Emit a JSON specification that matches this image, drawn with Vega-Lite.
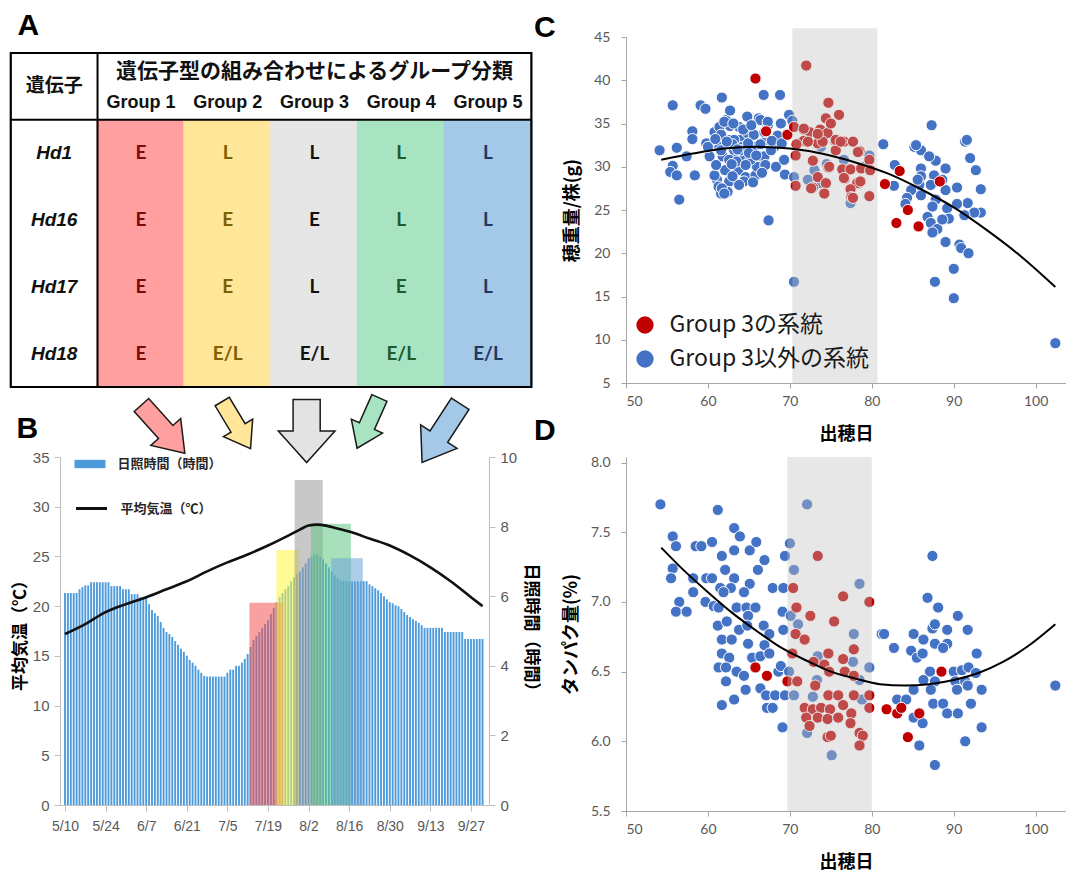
{
"$schema": "https://vega.github.io/schema/vega-lite/v6.json",
"padding": {"left": 9, "top": 11, "right": 0, "bottom": 0},
"background": "white",
"bounds": "flush",
"columns": 2,
"spacing": {"row": 74, "column": 137},
"resolve": {"scale": {"color": "independent", "fill": "independent", "stroke": "independent", "x": "independent", "y": "independent"}, "legend": {"color": "independent", "fill": "independent", "stroke": "independent"}},
"config": {
  "view": {"stroke": null},
  "font": "Noto Sans CJK JP",
  "axis": {"grid": false, "labelColor": "#595959", "domainColor": "#a6a6a6", "tickColor": "#a6a6a6", "titleColor": "#000000", "titleFontWeight": "bold", "titleFont": "Noto Sans CJK JP", "labelFont": "Liberation Sans"},
  "title": {"fontSize": 30, "font": "Liberation Sans", "fontWeight": "bold", "anchor": "start", "frame": "group", "offset": 0, "baseline": "alphabetic", "color": "#000000"}
},
"concat": [
{
  "width": 429, "height": 346,
  "title": {"text": "A", "dx": -42.5, "dy": 8},
  "layer": [
    {"data": {"name": "tblCols"}, "mark": {"type": "bar", "width": 88.83},
     "encoding": {
       "x": {"field": "col", "type": "quantitative", "scale": {"domain": [0.125, 4.954], "nice": false, "zero": false}, "axis": null},
       "y": {"datum": 0.5, "type": "quantitative", "scale": {"domain": [-0.7395, 4.44], "reverse": true, "nice": false, "zero": false}, "axis": null},
       "y2": {"datum": 4.5},
       "fill": {"field": "g", "type": "nominal", "scale": {"domain": ["Group 1","Group 2","Group 3","Group 4","Group 5"], "range": ["#FF9F9F","#FFE699","#E7E6E6","#A8E4C2","#A3C8E8"]}, "legend": null}
     }},
    {"data": {"values": [{}]}, "mark": {"type": "rect", "fillOpacity": 0, "stroke": "#000000", "strokeWidth": 2.2},
     "encoding": {"x": {"datum": -0.5, "type": "quantitative"}, "x2": {"datum": 5.5}, "y": {"datum": -0.5, "type": "quantitative"}, "y2": {"datum": 4.5}}},
    {"data": {"values": [{}]}, "mark": {"type": "rule", "stroke": "#000000", "strokeWidth": 2},
     "encoding": {"x": {"datum": 0.5, "type": "quantitative"}, "y": {"datum": -0.5, "type": "quantitative"}, "y2": {"datum": 4.5}}},
    {"data": {"values": [{}]}, "mark": {"type": "rule", "stroke": "#000000", "strokeWidth": 2},
     "encoding": {"x": {"datum": -0.5, "type": "quantitative"}, "x2": {"datum": 5.5}, "y": {"datum": 0.5, "type": "quantitative"}}},
    {"data": {"name": "tblTitle"}, "mark": {"type": "text", "fontSize": 21, "fontWeight": "bold", "font": "Noto Sans CJK JP", "dy": -14, "color": "#111111"},
     "encoding": {"x": {"field": "col", "type": "quantitative"}, "y": {"field": "row", "type": "quantitative"}, "text": {"field": "t"}}},
    {"data": {"name": "tblGene"}, "mark": {"type": "text", "fontSize": 19, "fontWeight": "bold", "font": "Noto Sans CJK JP", "color": "#111111"},
     "encoding": {"x": {"field": "col", "type": "quantitative"}, "y": {"field": "row", "type": "quantitative"}, "text": {"field": "t"}}},
    {"data": {"name": "tblGroups"}, "mark": {"type": "text", "fontSize": 18, "fontWeight": "bold", "font": "Liberation Sans", "dy": 17, "color": "#111111"},
     "encoding": {"x": {"field": "col", "type": "quantitative"}, "y": {"field": "row", "type": "quantitative"}, "text": {"field": "t"}}},
    {"data": {"name": "tblHd"}, "mark": {"type": "text", "fontSize": 19, "fontWeight": "bold", "fontStyle": "italic", "font": "Liberation Sans", "color": "#111111"},
     "encoding": {"x": {"field": "col", "type": "quantitative"}, "y": {"field": "row", "type": "quantitative"}, "text": {"field": "t"}}},
    {"data": {"name": "tblCells"}, "mark": {"type": "text", "fontSize": 19, "fontWeight": "bold", "font": "Lato"},
     "encoding": {"x": {"field": "col", "type": "quantitative"}, "y": {"field": "row", "type": "quantitative"}, "text": {"field": "t"},
       "color": {"field": "g", "type": "nominal", "scale": {"domain": ["Group 1","Group 2","Group 3","Group 4","Group 5"], "range": ["#7a0a0a","#7f6000","#111111","#1d5c2e","#1f3864"]}, "legend": null}}},
    {"data": {"values": [{}]}, "mark": {"type": "point", "shape": "M-0.3,-1L0.3,-1L0.3,0.12L0.62,0.12L0,1L-0.62,0.12L-0.3,0.12Z", "size": 4200, "angle": -42, "filled": true, "fill": "#FF9F9F", "stroke": "#1a1a1a", "strokeWidth": 1.5, "opacity": 1},
     "encoding": {"x": {"datum": 1.256, "type": "quantitative"}, "y": {"datum": 5.13, "type": "quantitative"}}},
    {"data": {"values": [{}]}, "mark": {"type": "point", "shape": "M-0.3,-1L0.3,-1L0.3,0.12L0.62,0.12L0,1L-0.62,0.12L-0.3,0.12Z", "size": 3025, "angle": -31, "filled": true, "fill": "#FFE699", "stroke": "#1a1a1a", "strokeWidth": 1.5, "opacity": 1},
     "encoding": {"x": {"datum": 2.10, "type": "quantitative"}, "y": {"datum": 5.07, "type": "quantitative"}}},
    {"data": {"values": [{}]}, "mark": {"type": "point", "shape": "M-0.43,-1L0.43,-1L0.43,0L0.9,0L0,1L-0.9,0L-0.43,0Z", "size": 3969, "angle": 0, "filled": true, "fill": "#E3E3E3", "stroke": "#1a1a1a", "strokeWidth": 1.5, "opacity": 1},
     "encoding": {"x": {"datum": 2.91, "type": "quantitative"}, "y": {"datum": 5.16, "type": "quantitative"}}},
    {"data": {"values": [{}]}, "mark": {"type": "point", "shape": "M-0.3,-1L0.3,-1L0.3,0.12L0.62,0.12L0,1L-0.62,0.12L-0.3,0.12Z", "size": 3025, "angle": 24, "filled": true, "fill": "#A8E4C2", "stroke": "#1a1a1a", "strokeWidth": 1.5, "opacity": 1},
     "encoding": {"x": {"datum": 3.62, "type": "quantitative"}, "y": {"datum": 5.04, "type": "quantitative"}}},
    {"data": {"values": [{}]}, "mark": {"type": "point", "shape": "M-0.3,-1L0.3,-1L0.3,0.12L0.62,0.12L0,1L-0.62,0.12L-0.3,0.12Z", "size": 4900, "angle": 33, "filled": true, "fill": "#A3C8E8", "stroke": "#1a1a1a", "strokeWidth": 1.5, "opacity": 1},
     "encoding": {"x": {"datum": 4.46, "type": "quantitative"}, "y": {"datum": 5.19, "type": "quantitative"}}}
  ]
},
{
  "width": 440, "height": 346,
  "title": {"text": "C", "dx": -92, "dy": 19},
  "layer": [
    {"data": {"name": "riceC"}, "mark": {"type": "point", "filled": true, "size": 125, "stroke": "#ffffff", "strokeWidth": 1, "opacity": 1},
     "encoding": {
       "x": {"field": "x", "type": "quantitative", "scale": {"domain": [50, 103.7], "nice": false, "zero": false},
             "axis": {"values": [50,60,70,80,90,100], "title": "出穂日", "titleFontSize": 18, "titlePadding": 17, "labelFontSize": 14, "labelFont": "Lato", "tickSize": 5, "labelPadding": 6}},
       "y": {"field": "y", "type": "quantitative", "scale": {"domain": [5, 45], "nice": false, "zero": false},
             "axis": {"values": [5,10,15,20,25,30,35,40,45], "title": "穂重量/株(g)", "titleFontSize": 18, "titlePadding": 12, "labelFontSize": 14, "labelFont": "Lato", "tickSize": 5, "labelPadding": 11}},
       "color": {"field": "g", "type": "nominal", "scale": {"domain": ["r", "b"], "range": ["#C00000", "#4472C4"]},
                 "legend": {"orient": "none", "legendX": 7.5, "legendY": 276.5, "title": null, "symbolType": "circle", "symbolSize": 300, "symbolStrokeWidth": 0, "labelFontSize": 23, "labelFont": "Noto Sans CJK JP", "labelColor": "#1a1a1a", "labelOffset": 13, "rowPadding": 10, "padding": 0, "labelLimit": 400, "labelExpr": "datum.label == 'r' ? 'Group 3の系統' : 'Group 3以外の系統'"}}
     }},
    {"data": {"values": [{}]}, "mark": {"type": "rect", "color": "#bfbfbf", "opacity": 0.38},
     "encoding": {"x": {"datum": 70.3, "type": "quantitative"}, "x2": {"datum": 80.7}, "y": {"datum": 5, "type": "quantitative"}, "y2": {"datum": 46}}},
    {"data": {"name": "fitC"}, "mark": {"type": "line", "color": "#000000", "strokeWidth": 2, "interpolate": "monotone"},
     "encoding": {"x": {"field": "x", "type": "quantitative"}, "y": {"field": "y", "type": "quantitative"}}}
  ]
},
{
  "width": 429, "height": 348,
  "title": {"text": "B", "dx": -43.5, "dy": -1},
  "layer": [
    {"layer": [
      {"data": {"name": "sun"}, "mark": {"type": "bar", "width": 1.9},
       "encoding": {
         "x": {"field": "d", "type": "quantitative", "scale": {"domain": [0, 144.5], "nice": false, "zero": false},
               "axis": {"values": [0,14,28,42,56,70,84,98,112,126,140], "labelExpr": "['5/10','5/24','6/7','6/21','7/5','7/19','8/2','8/16','8/30','9/13','9/27'][round(datum.value/14)]", "title": null, "labelFontSize": 14, "domainColor": "#bfbfbf", "tickColor": "#bfbfbf", "tickSize": 6, "labelPadding": 8}},
         "y": {"field": "h", "type": "quantitative", "scale": {"domain": [0, 10], "nice": false, "zero": true},
               "axis": {"orient": "right", "values": [0,1,2,3,4,5,6,7,8,9,10], "title": "日照時間（時間）", "titleAngle": 90, "titleFontSize": 17, "titlePadding": 5, "labelFontSize": 15, "domainColor": "#bfbfbf", "tickColor": "#bfbfbf", "tickSize": 6, "labelPadding": 5}},
         "fill": {"datum": "日照時間（時間）", "type": "nominal", "scale": {"range": ["#4e9bdc"]},
                  "legend": {"orient": "none", "legendX": 14.5, "legendY": -8.5, "title": null, "symbolType": "M-1,-0.27H1V0.27H-1Z", "symbolSize": 961, "labelFontSize": 13, "labelFontWeight": "bold", "labelFont": "Noto Sans CJK JP", "labelColor": "#262626", "labelOffset": 12, "padding": 0,
                             "encode": {"symbols": {"update": {"fill": {"value": "#1f78c8"}, "strokeWidth": {"value": 0}}}}}}
       }},
      {"data": {"name": "periods"}, "mark": {"type": "rect", "opacity": 0.55},
       "encoding": {
         "x": {"field": "s", "type": "quantitative"}, "x2": {"field": "e"},
         "y": {"field": "top", "type": "quantitative"}, "y2": {"datum": 0},
         "color": {"field": "g", "type": "nominal", "scale": {"domain": ["Group 1","Group 2","Group 3","Group 4","Group 5"], "range": ["#f45252","#fff640","#9b9b9b","#61c785","#6ca4d5"]}, "legend": null}
       }}
    ]},
    {"data": {"name": "temp"}, "mark": {"type": "line", "strokeWidth": 2.6, "interpolate": "monotone"},
     "encoding": {
       "x": {"field": "d", "type": "quantitative"},
       "y": {"field": "t", "type": "quantitative", "scale": {"domain": [0, 35], "nice": false, "zero": true},
             "axis": {"orient": "left", "values": [0,5,10,15,20,25,30,35], "title": "平均気温（℃）", "titleFontSize": 17, "titlePadding": 3, "labelFontSize": 15, "domainColor": "#bfbfbf", "tickColor": "#bfbfbf", "tickSize": 6, "labelPadding": 5}},
       "stroke": {"datum": "平均気温（℃）", "type": "nominal", "scale": {"range": ["#111111"]},
                  "legend": {"orient": "none", "legendX": 14.5, "legendY": 34.5, "title": null, "symbolType": "stroke", "symbolSize": 961, "symbolStrokeWidth": 3, "labelFontSize": 13, "labelFontWeight": "bold", "labelFont": "Noto Sans CJK JP", "labelColor": "#262626", "labelOffset": 12, "padding": 0}}
     }}
  ],
  "resolve": {"scale": {"y": "independent"}}
},
{
  "width": 440, "height": 354,
  "title": {"text": "D", "dx": -92, "dy": -6},
  "layer": [
    {"data": {"name": "riceD"}, "mark": {"type": "point", "filled": true, "size": 125, "stroke": "#ffffff", "strokeWidth": 1, "opacity": 1},
     "encoding": {
       "x": {"field": "x", "type": "quantitative", "scale": {"domain": [50, 103.7], "nice": false, "zero": false},
             "axis": {"values": [50,60,70,80,90,100], "title": "出穂日", "titleFontSize": 18, "titlePadding": 17, "labelFontSize": 14, "labelFont": "Lato", "tickSize": 5, "labelPadding": 6}},
       "y": {"field": "y", "type": "quantitative", "scale": {"domain": [5.5, 8.04], "nice": false, "zero": false},
             "axis": {"values": [5.5,6,6.5,7,7.5,8], "format": ".1f", "title": "タンパク量(%)", "titleFontSize": 18, "titlePadding": 10, "labelFontSize": 14, "labelFont": "Lato", "tickSize": 5, "labelPadding": 11}},
       "color": {"field": "g", "type": "nominal", "scale": {"domain": ["r", "b"], "range": ["#C00000", "#4472C4"]}, "legend": null}
     }},
    {"data": {"values": [{}]}, "mark": {"type": "rect", "color": "#bfbfbf", "opacity": 0.38},
     "encoding": {"x": {"datum": 69.7, "type": "quantitative"}, "x2": {"datum": 80.0}, "y": {"datum": 5.5, "type": "quantitative"}, "y2": {"datum": 8.04}}},
    {"data": {"name": "fitD"}, "mark": {"type": "line", "color": "#000000", "strokeWidth": 2, "interpolate": "monotone"},
     "encoding": {"x": {"field": "x", "type": "quantitative"}, "y": {"field": "y", "type": "quantitative"}}}
  ]
}
],
"datasets": {
  "tblCols": [{"col":1,"g":"Group 1"},{"col":2,"g":"Group 2"},{"col":3,"g":"Group 3"},{"col":4,"g":"Group 4"},{"col":5,"g":"Group 5"}],
  "tblTitle": [{"col":3,"row":0,"t":"遺伝子型の組み合わせによるグループ分類"}],
  "tblGene": [{"col":0,"row":0,"t":"遺伝子"}],
  "tblGroups": [{"col":1,"row":0,"t":"Group 1"},{"col":2,"row":0,"t":"Group 2"},{"col":3,"row":0,"t":"Group 3"},{"col":4,"row":0,"t":"Group 4"},{"col":5,"row":0,"t":"Group 5"}],
  "tblHd": [{"col":0,"row":1,"t":"Hd1"},{"col":0,"row":2,"t":"Hd16"},{"col":0,"row":3,"t":"Hd17"},{"col":0,"row":4,"t":"Hd18"}],
  "tblCells": [
    {"col":1,"row":1,"t":"E","g":"Group 1"},{"col":2,"row":1,"t":"L","g":"Group 2"},{"col":3,"row":1,"t":"L","g":"Group 3"},{"col":4,"row":1,"t":"L","g":"Group 4"},{"col":5,"row":1,"t":"L","g":"Group 5"},
    {"col":1,"row":2,"t":"E","g":"Group 1"},{"col":2,"row":2,"t":"E","g":"Group 2"},{"col":3,"row":2,"t":"E","g":"Group 3"},{"col":4,"row":2,"t":"L","g":"Group 4"},{"col":5,"row":2,"t":"L","g":"Group 5"},
    {"col":1,"row":3,"t":"E","g":"Group 1"},{"col":2,"row":3,"t":"E","g":"Group 2"},{"col":3,"row":3,"t":"L","g":"Group 3"},{"col":4,"row":3,"t":"E","g":"Group 4"},{"col":5,"row":3,"t":"L","g":"Group 5"},
    {"col":1,"row":4,"t":"E","g":"Group 1"},{"col":2,"row":4,"t":"E/L","g":"Group 2"},{"col":3,"row":4,"t":"E/L","g":"Group 3"},{"col":4,"row":4,"t":"E/L","g":"Group 4"},{"col":5,"row":4,"t":"E/L","g":"Group 5"}
  ],
  "periods": [{"g":"Group 1","s":63.6,"e":75.3,"top":5.81},{"g":"Group 2","s":72.9,"e":80.8,"top":7.33},{"g":"Group 3","s":79.2,"e":88.9,"top":9.34},{"g":"Group 4","s":84.8,"e":98.6,"top":8.08},{"g":"Group 5","s":91.8,"e":102.7,"top":7.09}],
  "temp": [{"d":0,"t":17.2},{"d":7,"t":18.2},{"d":14,"t":19.4},{"d":21,"t":20.2},{"d":28,"t":20.9},{"d":35,"t":21.7},{"d":42,"t":22.5},{"d":49,"t":23.5},{"d":56,"t":24.4},{"d":63,"t":25.2},{"d":70,"t":26.1},{"d":77,"t":27.1},{"d":81,"t":27.7},{"d":84,"t":28.1},{"d":87,"t":28.2},{"d":90,"t":28.1},{"d":94,"t":27.8},{"d":98,"t":27.5},{"d":105,"t":26.8},{"d":112,"t":26.1},{"d":119,"t":25.1},{"d":126,"t":23.9},{"d":133,"t":22.5},{"d":140,"t":20.9},{"d":144,"t":20.0}],
  "sun": [
    {"d":0,"h":6.09},{"d":1,"h":6.09},{"d":2,"h":6.09},{"d":3,"h":6.09},{"d":4,"h":6.09},{"d":5,"h":6.2},{"d":6,"h":6.26},{"d":7,"h":6.31},{"d":8,"h":6.31},{"d":9,"h":6.4},
    {"d":10,"h":6.4},{"d":11,"h":6.4},{"d":12,"h":6.4},{"d":13,"h":6.4},{"d":14,"h":6.4},{"d":15,"h":6.4},{"d":16,"h":6.29},{"d":17,"h":6.29},{"d":18,"h":6.29},{"d":19,"h":6.29},
    {"d":20,"h":6.2},{"d":21,"h":6.2},{"d":22,"h":6.2},{"d":23,"h":6.06},{"d":24,"h":6.06},{"d":25,"h":6.06},{"d":26,"h":5.97},{"d":27,"h":5.97},{"d":28,"h":5.97},{"d":29,"h":5.77},
    {"d":30,"h":5.6},{"d":31,"h":5.51},{"d":32,"h":5.43},{"d":33,"h":5.26},{"d":34,"h":5.09},{"d":35,"h":4.97},{"d":36,"h":4.91},{"d":37,"h":4.83},{"d":38,"h":4.71},{"d":39,"h":4.6},
    {"d":40,"h":4.49},{"d":41,"h":4.4},{"d":42,"h":4.29},{"d":43,"h":4.17},{"d":44,"h":4.09},{"d":45,"h":4.0},{"d":46,"h":3.89},{"d":47,"h":3.8},{"d":48,"h":3.71},{"d":49,"h":3.69},
    {"d":50,"h":3.69},{"d":51,"h":3.69},{"d":52,"h":3.69},{"d":53,"h":3.69},{"d":54,"h":3.69},{"d":55,"h":3.69},{"d":56,"h":3.8},{"d":57,"h":3.89},{"d":58,"h":3.89},{"d":59,"h":4.0},
    {"d":60,"h":4.0},{"d":61,"h":4.09},{"d":62,"h":4.2},{"d":63,"h":4.34},{"d":64,"h":4.54},{"d":65,"h":4.74},{"d":66,"h":4.86},{"d":67,"h":4.97},{"d":68,"h":5.09},{"d":69,"h":5.2},
    {"d":70,"h":5.31},{"d":71,"h":5.49},{"d":72,"h":5.66},{"d":73,"h":5.83},{"d":74,"h":5.97},{"d":75,"h":6.09},{"d":76,"h":6.2},{"d":77,"h":6.29},{"d":78,"h":6.43},{"d":79,"h":6.54},
    {"d":80,"h":6.63},{"d":81,"h":6.71},{"d":82,"h":6.83},{"d":83,"h":6.94},{"d":84,"h":7.09},{"d":85,"h":7.14},{"d":86,"h":7.17},{"d":87,"h":7.2},{"d":88,"h":7.14},{"d":89,"h":7.06},
    {"d":90,"h":6.94},{"d":91,"h":6.83},{"d":92,"h":6.71},{"d":93,"h":6.6},{"d":94,"h":6.51},{"d":95,"h":6.43},{"d":96,"h":6.43},{"d":97,"h":6.43},{"d":98,"h":6.43},{"d":99,"h":6.43},
    {"d":100,"h":6.43},{"d":101,"h":6.43},{"d":102,"h":6.43},{"d":103,"h":6.43},{"d":104,"h":6.43},{"d":105,"h":6.34},{"d":106,"h":6.29},{"d":107,"h":6.23},{"d":108,"h":6.17},{"d":109,"h":6.09},
    {"d":110,"h":6.0},{"d":111,"h":5.91},{"d":112,"h":5.83},{"d":113,"h":5.8},{"d":114,"h":5.74},{"d":115,"h":5.71},{"d":116,"h":5.63},{"d":117,"h":5.54},{"d":118,"h":5.46},{"d":119,"h":5.4},
    {"d":120,"h":5.34},{"d":121,"h":5.29},{"d":122,"h":5.23},{"d":123,"h":5.17},{"d":124,"h":5.09},{"d":125,"h":5.09},{"d":126,"h":5.09},{"d":127,"h":5.09},{"d":128,"h":5.09},{"d":129,"h":5.09},
    {"d":130,"h":5.09},{"d":131,"h":4.97},{"d":132,"h":4.97},{"d":133,"h":4.97},{"d":134,"h":4.97},{"d":135,"h":4.97},{"d":136,"h":4.97},{"d":137,"h":4.97},{"d":138,"h":4.77},{"d":139,"h":4.77},
    {"d":140,"h":4.77},{"d":141,"h":4.77},{"d":142,"h":4.77},{"d":143,"h":4.77},{"d":144,"h":4.77}
  ],
  "fitC": [{"x":54.3,"y":30.8},{"x":58,"y":31.5},{"x":62,"y":32.1},{"x":66,"y":32.3},{"x":70,"y":32.1},{"x":74,"y":31.5},{"x":78,"y":30.5},{"x":82,"y":29.2},{"x":86,"y":27.4},{"x":90,"y":25.3},{"x":94,"y":22.7},{"x":98,"y":19.8},{"x":102.4,"y":16.1}],
  "fitD": [{"x":54.3,"y":7.39},{"x":57,"y":7.23},{"x":60,"y":7.07},{"x":63,"y":6.92},{"x":66,"y":6.79},{"x":69,"y":6.67},{"x":72,"y":6.58},{"x":75,"y":6.50},{"x":78,"y":6.45},{"x":81,"y":6.41},{"x":84,"y":6.40},{"x":87,"y":6.41},{"x":90,"y":6.44},{"x":93,"y":6.49},{"x":96,"y":6.57},{"x":99,"y":6.68},{"x":102.4,"y":6.84}],
  "riceC": [
    {"x":54.1,"y":31.9,"g":"b"},{"x":55.7,"y":37.1,"g":"b"},{"x":55.7,"y":30.1,"g":"b"},{"x":55.4,"y":29.4,"g":"b"},{"x":56.2,"y":32.2,"g":"b"},{"x":56.2,"y":29.0,"g":"b"},{"x":56.5,"y":26.2,"g":"b"},{"x":57.4,"y":31.2,"g":"b"},{"x":58.1,"y":34.1,"g":"b"},{"x":58.1,"y":33.2,"g":"b"},
    {"x":58.4,"y":29.0,"g":"b"},{"x":59.1,"y":37.1,"g":"b"},{"x":59.7,"y":36.7,"g":"b"},{"x":59.8,"y":32.7,"g":"b"},{"x":60.2,"y":31.2,"g":"b"},{"x":60.8,"y":34.0,"g":"b"},{"x":61.1,"y":28.5,"g":"b"},{"x":61.3,"y":27.7,"g":"b"},{"x":61.6,"y":26.9,"g":"b"},{"x":61.7,"y":38.0,"g":"b"},
    {"x":61.4,"y":34.6,"g":"b"},{"x":61.6,"y":33.7,"g":"b"},{"x":61.4,"y":32.3,"g":"b"},{"x":61.8,"y":31.2,"g":"b"},{"x":62.1,"y":29.6,"g":"b"},{"x":62.2,"y":35.4,"g":"b"},{"x":62.7,"y":36.5,"g":"b"},{"x":62.7,"y":34.7,"g":"b"},{"x":62.7,"y":33.1,"g":"b"},{"x":62.6,"y":28.3,"g":"b"},
    {"x":62.4,"y":27.1,"g":"b"},{"x":63.2,"y":31.9,"g":"b"},{"x":63.4,"y":30.8,"g":"b"},{"x":63.7,"y":29.6,"g":"b"},{"x":63.8,"y":34.6,"g":"b"},{"x":64.0,"y":33.1,"g":"b"},{"x":64.2,"y":32.3,"g":"b"},{"x":64.4,"y":31.2,"g":"b"},{"x":64.6,"y":28.8,"g":"b"},{"x":64.8,"y":35.8,"g":"b"},
    {"x":64.8,"y":33.9,"g":"b"},{"x":65.4,"y":30.4,"g":"b"},{"x":65.6,"y":32.3,"g":"b"},{"x":65.6,"y":33.7,"g":"b"},{"x":65.8,"y":29.0,"g":"b"},{"x":66.0,"y":30.0,"g":"b"},{"x":66.2,"y":35.6,"g":"b"},{"x":66.4,"y":35.4,"g":"b"},{"x":66.6,"y":31.2,"g":"b"},{"x":66.8,"y":38.3,"g":"b"},
    {"x":67.1,"y":33.1,"g":"b"},{"x":67.3,"y":34.8,"g":"b"},{"x":67.4,"y":23.8,"g":"b"},{"x":68.1,"y":32.3,"g":"b"},{"x":68.3,"y":30.0,"g":"b"},{"x":68.8,"y":38.3,"g":"b"},{"x":68.9,"y":35.0,"g":"b"},{"x":69.3,"y":30.8,"g":"b"},{"x":69.4,"y":29.1,"g":"b"},{"x":69.9,"y":36.0,"g":"b"},
    {"x":69.7,"y":33.8,"g":"b"},{"x":62.0,"y":35.2,"g":"b"},{"x":61.6,"y":31.9,"g":"b"},{"x":61.7,"y":27.5,"g":"b"},{"x":62.0,"y":26.9,"g":"b"},{"x":62.6,"y":30.8,"g":"b"},{"x":63.2,"y":33.1,"g":"b"},{"x":64.0,"y":31.9,"g":"b"},{"x":65.2,"y":30.8,"g":"b"},{"x":66.9,"y":34.0,"g":"b"},
    {"x":67.3,"y":35.2,"g":"b"},{"x":66.9,"y":31.2,"g":"b"},{"x":67.7,"y":31.9,"g":"b"},{"x":64.9,"y":32.7,"g":"b"},{"x":63.5,"y":30.6,"g":"b"},{"x":64.4,"y":28.3,"g":"b"},{"x":63.8,"y":27.9,"g":"b"},{"x":60.8,"y":29.0,"g":"b"},{"x":60.0,"y":32.3,"g":"b"},{"x":63.0,"y":32.6,"g":"b"},
    {"x":63.6,"y":32.0,"g":"b"},{"x":64.6,"y":30.2,"g":"b"},{"x":65.0,"y":31.6,"g":"b"},{"x":65.9,"y":31.3,"g":"b"},{"x":66.4,"y":32.6,"g":"b"},{"x":62.9,"y":30.3,"g":"b"},{"x":64.3,"y":34.3,"g":"b"},{"x":65.3,"y":34.8,"g":"b"},{"x":63.1,"y":35.0,"g":"b"},{"x":60.9,"y":33.2,"g":"b"},
    {"x":61.0,"y":30.2,"g":"b"},{"x":62.3,"y":32.9,"g":"b"},{"x":67.0,"y":30.2,"g":"b"},{"x":68.5,"y":33.6,"g":"b"},{"x":67.8,"y":33.0,"g":"b"},{"x":69.0,"y":32.7,"g":"b"},{"x":65.5,"y":28.2,"g":"b"},{"x":63.0,"y":28.9,"g":"b"},{"x":66.6,"y":29.3,"g":"b"},
    {"x":70.5,"y":16.7,"g":"b"},{"x":70.5,"y":28.8,"g":"b"},{"x":72.2,"y":28.5,"g":"b"},{"x":73.0,"y":29.6,"g":"b"},{"x":73.8,"y":32.3,"g":"b"},{"x":77.4,"y":25.8,"g":"b"},{"x":79.1,"y":30.0,"g":"b"},{"x":79.7,"y":31.3,"g":"b"},{"x":76.6,"y":30.8,"g":"b"},{"x":73.8,"y":28.1,"g":"b"},
    {"x":70.3,"y":35.3,"g":"b"},{"x":74.5,"y":30.3,"g":"b"},{"x":78.3,"y":28.0,"g":"b"},
    {"x":81.4,"y":32.6,"g":"b"},{"x":85.2,"y":32.3,"g":"b"},{"x":86.0,"y":31.9,"g":"b"},{"x":87.3,"y":34.8,"g":"b"},{"x":91.4,"y":32.9,"g":"b"},{"x":92.0,"y":31.0,"g":"b"},{"x":92.7,"y":29.6,"g":"b"},{"x":93.3,"y":27.4,"g":"b"},{"x":93.3,"y":24.7,"g":"b"},{"x":92.5,"y":24.7,"g":"b"},
    {"x":91.7,"y":25.8,"g":"b"},{"x":90.4,"y":27.6,"g":"b"},{"x":90.4,"y":25.7,"g":"b"},{"x":91.3,"y":24.4,"g":"b"},{"x":89.0,"y":29.8,"g":"b"},{"x":87.8,"y":30.7,"g":"b"},{"x":87.0,"y":31.2,"g":"b"},{"x":86.0,"y":29.8,"g":"b"},{"x":86.0,"y":28.9,"g":"b"},{"x":87.6,"y":29.0,"g":"b"},
    {"x":87.2,"y":27.9,"g":"b"},{"x":89.0,"y":27.3,"g":"b"},{"x":85.8,"y":27.9,"g":"b"},{"x":84.8,"y":27.3,"g":"b"},{"x":86.0,"y":26.7,"g":"b"},{"x":84.3,"y":26.4,"g":"b"},{"x":87.8,"y":26.2,"g":"b"},{"x":87.4,"y":25.4,"g":"b"},{"x":89.2,"y":25.2,"g":"b"},{"x":84.1,"y":25.7,"g":"b"},
    {"x":86.8,"y":24.2,"g":"b"},{"x":89.4,"y":24.0,"g":"b"},{"x":87.2,"y":23.5,"g":"b"},{"x":88.0,"y":22.8,"g":"b"},{"x":88.6,"y":23.9,"g":"b"},{"x":87.4,"y":22.4,"g":"b"},{"x":89.0,"y":21.3,"g":"b"},{"x":90.7,"y":21.0,"g":"b"},{"x":90.9,"y":20.6,"g":"b"},{"x":91.8,"y":20.0,"g":"b"},
    {"x":90.0,"y":18.2,"g":"b"},{"x":87.7,"y":16.7,"g":"b"},{"x":90.0,"y":14.8,"g":"b"},{"x":102.4,"y":9.6,"g":"b"},{"x":82.8,"y":30.2,"g":"b"},{"x":82.7,"y":27.8,"g":"b"},{"x":85.6,"y":28.5,"g":"b"},{"x":88.6,"y":28.5,"g":"b"},{"x":91.6,"y":33.1,"g":"b"},{"x":85.4,"y":32.5,"g":"b"},
    {"x":65.8,"y":40.2,"g":"r"},{"x":67.1,"y":34.1,"g":"r"},{"x":69.7,"y":33.7,"g":"r"},{"x":72.0,"y":41.7,"g":"r"},{"x":74.7,"y":37.4,"g":"r"},{"x":76.0,"y":36.0,"g":"r"},{"x":74.4,"y":35.6,"g":"r"},{"x":70.5,"y":34.6,"g":"r"},{"x":71.7,"y":34.3,"g":"r"},{"x":72.4,"y":34.0,"g":"r"},
    {"x":73.7,"y":34.3,"g":"r"},{"x":74.6,"y":33.9,"g":"r"},{"x":73.4,"y":32.7,"g":"r"},{"x":71.7,"y":33.0,"g":"r"},{"x":70.7,"y":31.3,"g":"r"},{"x":75.5,"y":33.0,"g":"r"},{"x":76.6,"y":32.9,"g":"r"},{"x":77.7,"y":32.9,"g":"r"},{"x":75.6,"y":31.9,"g":"r"},{"x":78.5,"y":31.8,"g":"r"},
    {"x":79.7,"y":30.8,"g":"r"},{"x":72.8,"y":30.7,"g":"r"},{"x":74.7,"y":29.9,"g":"r"},{"x":76.4,"y":29.7,"g":"r"},{"x":77.4,"y":29.7,"g":"r"},{"x":78.7,"y":29.8,"g":"r"},{"x":79.8,"y":29.6,"g":"r"},{"x":73.4,"y":28.8,"g":"r"},{"x":76.7,"y":28.6,"g":"r"},{"x":70.7,"y":27.8,"g":"r"},
    {"x":72.8,"y":27.6,"g":"r"},{"x":74.4,"y":28.1,"g":"r"},{"x":78.2,"y":28.1,"g":"r"},{"x":77.4,"y":27.4,"g":"r"},{"x":74.2,"y":26.9,"g":"r"},{"x":77.5,"y":26.5,"g":"r"},{"x":79.7,"y":26.6,"g":"r"},{"x":74.0,"y":32.9,"g":"r"},{"x":71.7,"y":34.4,"g":"r"},{"x":75.6,"y":33.1,"g":"r"},
    {"x":76.2,"y":32.9,"g":"r"},{"x":78.3,"y":31.7,"g":"r"},{"x":72.6,"y":27.5,"g":"r"},{"x":77.7,"y":26.4,"g":"r"},{"x":76.6,"y":28.7,"g":"r"},{"x":78.6,"y":28.3,"g":"r"},{"x":73.4,"y":33.8,"g":"r"},{"x":74.8,"y":30.0,"g":"r"},{"x":72.2,"y":32.9,"g":"r"},{"x":70.8,"y":32.6,"g":"r"},
    {"x":75.0,"y":35.0,"g":"r"},{"x":81.6,"y":28.0,"g":"r"},{"x":83.4,"y":29.5,"g":"r"},{"x":88.3,"y":28.3,"g":"r"},{"x":84.4,"y":25.0,"g":"r"},{"x":83.0,"y":23.5,"g":"r"},{"x":85.7,"y":23.1,"g":"r"}
  ],
  "riceD": [
    {"x":54.2,"y":7.70,"g":"b"},{"x":61.2,"y":7.66,"g":"b"},{"x":55.7,"y":7.47,"g":"b"},{"x":56.1,"y":7.40,"g":"b"},{"x":58.5,"y":7.40,"g":"b"},{"x":59.2,"y":7.40,"g":"b"},{"x":60.5,"y":7.43,"g":"b"},{"x":63.2,"y":7.53,"g":"b"},{"x":63.9,"y":7.47,"g":"b"},{"x":63.2,"y":7.37,"g":"b"},
    {"x":61.7,"y":7.33,"g":"b"},{"x":65.1,"y":7.37,"g":"b"},{"x":65.9,"y":7.43,"g":"b"},{"x":66.9,"y":7.30,"g":"b"},{"x":66.1,"y":7.23,"g":"b"},{"x":62.1,"y":7.23,"g":"b"},{"x":55.7,"y":7.24,"g":"b"},{"x":55.5,"y":7.17,"g":"b"},{"x":58.2,"y":7.17,"g":"b"},{"x":59.8,"y":7.17,"g":"b"},
    {"x":60.5,"y":7.17,"g":"b"},{"x":63.2,"y":7.17,"g":"b"},{"x":65.1,"y":7.13,"g":"b"},{"x":61.5,"y":7.10,"g":"b"},{"x":62.8,"y":7.10,"g":"b"},{"x":58.2,"y":7.07,"g":"b"},{"x":61.9,"y":7.07,"g":"b"},{"x":64.4,"y":7.07,"g":"b"},{"x":67.9,"y":7.10,"g":"b"},{"x":69.2,"y":7.10,"g":"b"},
    {"x":56.5,"y":7.00,"g":"b"},{"x":56.1,"y":6.93,"g":"b"},{"x":57.4,"y":6.93,"g":"b"},{"x":59.7,"y":7.00,"g":"b"},{"x":60.7,"y":6.97,"g":"b"},{"x":61.3,"y":6.96,"g":"b"},{"x":63.5,"y":6.96,"g":"b"},{"x":64.7,"y":6.96,"g":"b"},{"x":65.8,"y":6.96,"g":"b"},{"x":69.1,"y":6.93,"g":"b"},
    {"x":64.9,"y":6.90,"g":"b"},{"x":61.2,"y":6.83,"g":"b"},{"x":62.3,"y":6.86,"g":"b"},{"x":63.8,"y":6.80,"g":"b"},{"x":66.8,"y":6.83,"g":"b"},{"x":64.8,"y":6.83,"g":"b"},{"x":69.2,"y":6.80,"g":"b"},{"x":61.7,"y":6.73,"g":"b"},{"x":62.9,"y":6.73,"g":"b"},{"x":64.9,"y":6.70,"g":"b"},
    {"x":67.5,"y":6.77,"g":"b"},{"x":66.9,"y":6.69,"g":"b"},{"x":61.7,"y":6.63,"g":"b"},{"x":62.6,"y":6.60,"g":"b"},{"x":65.4,"y":6.60,"g":"b"},{"x":66.4,"y":6.61,"g":"b"},{"x":67.5,"y":6.63,"g":"b"},{"x":61.3,"y":6.53,"g":"b"},{"x":62.2,"y":6.53,"g":"b"},{"x":63.5,"y":6.50,"g":"b"},
    {"x":64.4,"y":6.47,"g":"b"},{"x":68.6,"y":6.50,"g":"b"},{"x":68.9,"y":6.54,"g":"b"},{"x":62.2,"y":6.43,"g":"b"},{"x":64.6,"y":6.37,"g":"b"},{"x":66.4,"y":6.38,"g":"b"},{"x":67.1,"y":6.33,"g":"b"},{"x":68.2,"y":6.33,"g":"b"},{"x":69.4,"y":6.33,"g":"b"},{"x":61.7,"y":6.26,"g":"b"},
    {"x":63.2,"y":6.30,"g":"b"},{"x":67.2,"y":6.24,"g":"b"},{"x":67.9,"y":6.24,"g":"b"},{"x":69.1,"y":6.10,"g":"b"},{"x":70.0,"y":7.42,"g":"b"},{"x":69.4,"y":7.33,"g":"b"},
    {"x":72.1,"y":7.70,"g":"b"},{"x":70.5,"y":7.23,"g":"b"},{"x":78.5,"y":7.13,"g":"b"},{"x":70.1,"y":6.90,"g":"b"},{"x":71.0,"y":6.84,"g":"b"},{"x":77.8,"y":6.77,"g":"b"},{"x":77.7,"y":6.57,"g":"b"},{"x":79.7,"y":6.53,"g":"b"},{"x":69.9,"y":6.50,"g":"b"},{"x":73.4,"y":6.61,"g":"b"},
    {"x":73.3,"y":6.44,"g":"b"},{"x":78.5,"y":6.44,"g":"b"},{"x":70.5,"y":6.33,"g":"b"},{"x":72.8,"y":6.32,"g":"b"},{"x":78.8,"y":6.30,"g":"b"},{"x":72.1,"y":6.06,"g":"b"},{"x":75.1,"y":5.90,"g":"b"},{"x":81.2,"y":6.77,"g":"b"},
    {"x":87.4,"y":7.33,"g":"b"},{"x":86.8,"y":7.03,"g":"b"},{"x":88.1,"y":6.96,"g":"b"},{"x":90.5,"y":6.90,"g":"b"},{"x":81.5,"y":6.77,"g":"b"},{"x":85.1,"y":6.77,"g":"b"},{"x":87.4,"y":6.81,"g":"b"},{"x":87.7,"y":6.84,"g":"b"},{"x":89.2,"y":6.80,"g":"b"},{"x":91.7,"y":6.80,"g":"b"},
    {"x":86.3,"y":6.73,"g":"b"},{"x":89.2,"y":6.70,"g":"b"},{"x":87.7,"y":6.70,"g":"b"},{"x":82.7,"y":6.67,"g":"b"},{"x":84.8,"y":6.65,"g":"b"},{"x":85.5,"y":6.60,"g":"b"},{"x":86.2,"y":6.63,"g":"b"},{"x":88.7,"y":6.67,"g":"b"},{"x":92.8,"y":6.63,"g":"b"},{"x":87.1,"y":6.50,"g":"b"},
    {"x":90.0,"y":6.50,"g":"b"},{"x":91.0,"y":6.51,"g":"b"},{"x":91.8,"y":6.53,"g":"b"},{"x":92.7,"y":6.49,"g":"b"},{"x":86.3,"y":6.44,"g":"b"},{"x":87.7,"y":6.43,"g":"b"},{"x":90.2,"y":6.43,"g":"b"},{"x":91.4,"y":6.43,"g":"b"},{"x":85.1,"y":6.37,"g":"b"},{"x":87.2,"y":6.37,"g":"b"},
    {"x":90.4,"y":6.37,"g":"b"},{"x":91.7,"y":6.40,"g":"b"},{"x":93.4,"y":6.37,"g":"b"},{"x":102.4,"y":6.40,"g":"b"},{"x":83.1,"y":6.30,"g":"b"},{"x":84.2,"y":6.30,"g":"b"},{"x":87.5,"y":6.27,"g":"b"},{"x":88.7,"y":6.27,"g":"b"},{"x":92.1,"y":6.27,"g":"b"},{"x":89.2,"y":6.20,"g":"b"},
    {"x":90.5,"y":6.20,"g":"b"},{"x":85.1,"y":6.17,"g":"b"},{"x":86.2,"y":6.13,"g":"b"},{"x":93.4,"y":6.10,"g":"b"},{"x":85.8,"y":5.97,"g":"b"},{"x":91.4,"y":6.00,"g":"b"},{"x":87.7,"y":5.83,"g":"b"},
    {"x":73.4,"y":7.33,"g":"r"},{"x":70.4,"y":7.10,"g":"r"},{"x":70.8,"y":6.96,"g":"r"},{"x":72.5,"y":6.90,"g":"r"},{"x":76.5,"y":7.04,"g":"r"},{"x":79.7,"y":7.00,"g":"r"},{"x":75.4,"y":6.86,"g":"r"},{"x":70.7,"y":6.77,"g":"r"},{"x":71.8,"y":6.73,"g":"r"},{"x":70.3,"y":6.63,"g":"r"},
    {"x":77.8,"y":6.66,"g":"r"},{"x":74.7,"y":6.63,"g":"r"},{"x":72.9,"y":6.57,"g":"r"},{"x":74.2,"y":6.55,"g":"r"},{"x":76.5,"y":6.59,"g":"r"},{"x":74.8,"y":6.50,"g":"r"},{"x":76.7,"y":6.50,"g":"r"},{"x":77.8,"y":6.47,"g":"r"},{"x":65.8,"y":6.53,"g":"r"},{"x":67.2,"y":6.47,"g":"r"},
    {"x":69.7,"y":6.43,"g":"r"},{"x":70.9,"y":6.43,"g":"r"},{"x":73.1,"y":6.40,"g":"r"},{"x":79.7,"y":6.33,"g":"r"},{"x":74.7,"y":6.33,"g":"r"},{"x":75.9,"y":6.33,"g":"r"},{"x":77.8,"y":6.33,"g":"r"},{"x":79.7,"y":6.24,"g":"r"},{"x":71.8,"y":6.24,"g":"r"},{"x":72.8,"y":6.23,"g":"r"},
    {"x":73.8,"y":6.24,"g":"r"},{"x":74.9,"y":6.23,"g":"r"},{"x":76.5,"y":6.26,"g":"r"},{"x":77.5,"y":6.20,"g":"r"},{"x":72.0,"y":6.17,"g":"r"},{"x":73.4,"y":6.17,"g":"r"},{"x":74.6,"y":6.16,"g":"r"},{"x":75.9,"y":6.17,"g":"r"},{"x":77.4,"y":6.13,"g":"r"},{"x":72.4,"y":6.11,"g":"r"},
    {"x":78.5,"y":6.06,"g":"r"},{"x":74.6,"y":6.03,"g":"r"},{"x":75.0,"y":6.04,"g":"r"},{"x":78.9,"y":6.04,"g":"r"},{"x":78.5,"y":5.97,"g":"r"},{"x":88.5,"y":6.50,"g":"r"},{"x":81.8,"y":6.23,"g":"r"},{"x":83.1,"y":6.20,"g":"r"},{"x":83.6,"y":6.24,"g":"r"},{"x":85.8,"y":6.20,"g":"r"},
    {"x":84.4,"y":6.03,"g":"r"}
  ]
}
}
